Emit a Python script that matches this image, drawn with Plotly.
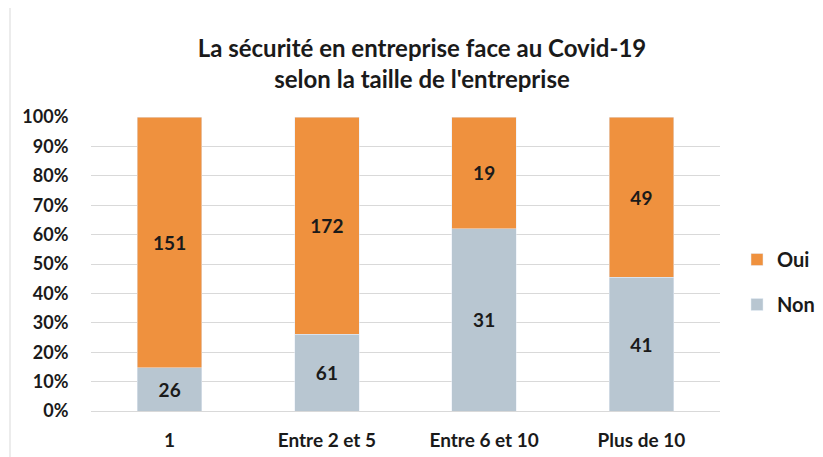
import plotly.graph_objects as go

categories = ["1", "Entre 2 et 5", "Entre 6 et 10", "Plus de 10"]
non_values = [26, 61, 31, 41]
oui_values = [151, 172, 19, 49]
y_ticks = [0, 10, 20, 30, 40, 50, 60, 70, 80, 90, 100]

FONT = "Lato"
W, H = 815, 449
L, T = 83, 109
PW, PH = 629, 294
R = W - L - PW
B = H - T - PH

fig = go.Figure()
fig.add_trace(go.Bar(
    x=categories, y=non_values, name="<b>Non</b>", marker_color="#B8C6D1",
    text=non_values, texttemplate="<b>%{text}</b>", textposition="inside",
    insidetextanchor="middle", legendrank=2,
    textfont=dict(family=FONT, size=19, color="#1a1a1a"), legendgroup="non",
))
fig.add_trace(go.Bar(
    x=categories, y=oui_values, name="<b>Oui</b>", marker_color="#EF913E",
    text=oui_values, texttemplate="<b>%{text}</b>", textposition="inside",
    insidetextanchor="middle", legendrank=1,
    textfont=dict(family=FONT, size=19, color="#1a1a1a"), legendgroup="oui",
))

fig.update_layout(
    width=W, height=H,
    barmode="stack", barnorm="percent", bargap=0.59,
    paper_bgcolor="white", plot_bgcolor="white",
    margin=dict(l=L, r=R, t=T, b=B, autoexpand=False),
    font=dict(family=FONT, size=18, color="#1a1a1a"),
    title=dict(
        text="<b>La sécurité en entreprise face au Covid-19<br>selon la taille de l'entreprise</b>",
        x=(422 - 8) / W, xanchor="center", y=1 - (57 - 8) / H, yanchor="middle",
        font=dict(family=FONT, size=24, color="#1a1a1a"),
    ),
    legend=dict(
        x=(729 - L) / PW, xref="paper", y=(403 - 274) / PH, yanchor="middle",
        traceorder="grouped", tracegroupgap=16,
        font=dict(family=FONT, size=20, color="#1a1a1a"),
        itemwidth=30,
    ),
    uniformtext=dict(minsize=10, mode="show"),
)
fig.update_xaxes(
    showgrid=False, showline=True, linecolor="#D9D9D9", linewidth=1,
    ticks="outside", ticklen=12, tickcolor="white",
    tickvals=categories, ticktext=[f"<b>{c}</b>" for c in categories],
    tickfont=dict(family=FONT, size=19, color="#1a1a1a"),
)
fig.update_yaxes(
    range=[0, 100], tickvals=y_ticks, ticktext=[f"<b>{v}%</b>" for v in y_ticks],
    showgrid=True, gridcolor="#D9D9D9", gridwidth=1, zeroline=False,
    ticks="outside", ticklen=18, tickcolor="white",
    tickfont=dict(family=FONT, size=18, color="#1a1a1a"),
)

fig.add_shape(type="line", xref="paper", yref="paper", x0=(2 - L) / PW, x1=(2 - L) / PW,
              y0=-B / PH, y1=1 + T / PH, line=dict(color="#D9D9D9", width=1))

fig.write_html("out.html")
